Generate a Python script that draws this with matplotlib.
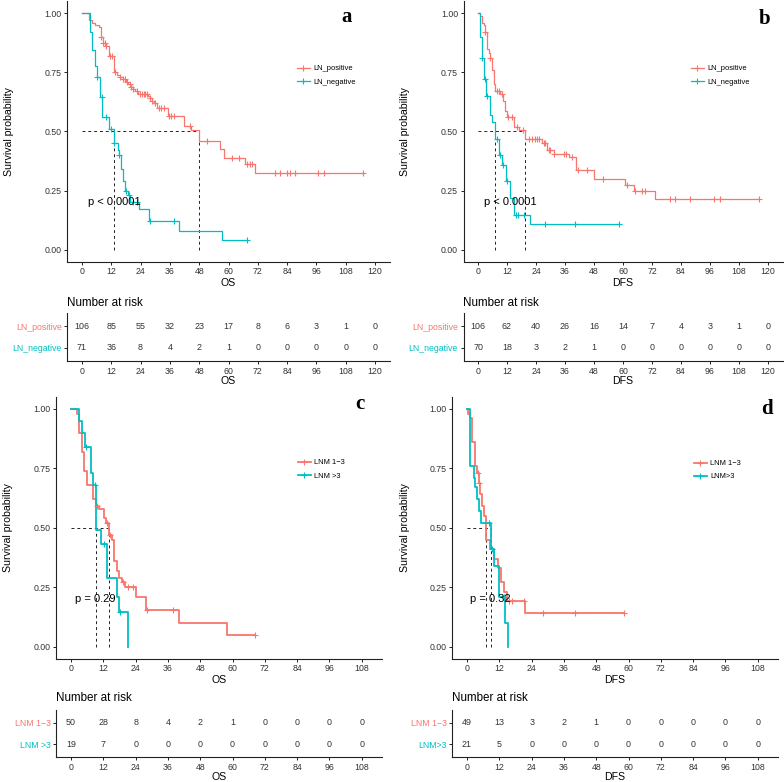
import numpy as np
import matplotlib
matplotlib.use('Agg')
import matplotlib.pyplot as plt
from matplotlib.lines import Line2D

plt.rcParams['font.family'] = ['Liberation Sans', 'DejaVu Sans']

RED = '#F8766D'
CYAN = '#00BFC4'
TXT = '#333333'

# ---------------- Panel a : OS, LN_positive vs LN_negative ----------------
a_pos_t = [2.7, 4.1, 5.5, 6.8, 7.9, 8.6, 10.0, 10.9, 13.2, 14.3, 15.4, 16.8, 18.1, 18.8, 20.2, 21.1, 21.8, 22.8,
           27.0, 28.0, 28.6, 29.7, 30.7, 35.2, 41.6, 44.7, 47.9, 56.6, 58.2, 66.8, 70.9]
a_pos_s = [0.97, 0.96, 0.95, 0.94, 0.90, 0.875, 0.86, 0.82, 0.75, 0.74, 0.73, 0.72, 0.71, 0.70, 0.69, 0.68, 0.67, 0.66,
           0.65, 0.64, 0.63, 0.62, 0.60, 0.565, 0.525, 0.505, 0.46, 0.424, 0.389, 0.364, 0.323]
a_pos_end = 115.2
a_pos_cens = [7.9, 8.6, 9.5, 10.0, 11.6, 12.3, 13.6, 15.4, 16.8, 17.7, 18.4, 19.5, 20.2, 21.1, 22.5, 23.6, 24.5, 25.2,
              25.9, 26.6, 28.0, 28.8, 30.0, 31.4, 32.3, 33.4, 35.5, 36.4, 37.5, 44.3, 51.4, 61.4, 64.1, 67.5, 68.6,
              69.5, 79.1, 81.1, 84.1, 85.2, 87.3, 96.8, 98.9, 115.2]
a_neg_t = [3.1, 4.1, 5.2, 6.1, 7.2, 8.4, 11.0, 13.0, 14.6, 15.2, 16.1, 16.8, 17.7, 18.8, 19.8, 23.2, 27.3, 39.8, 57.3]
a_neg_s = [0.92, 0.845, 0.775, 0.73, 0.645, 0.56, 0.51, 0.45, 0.42, 0.40, 0.34, 0.29, 0.25, 0.23, 0.20, 0.17, 0.12,
           0.08, 0.04]
a_neg_end = 67.5
a_neg_cens = [6.1, 8.2, 10.0, 12.0, 13.2, 15.3, 18.1, 19.1, 21.1, 22.5, 28.0, 37.5, 67.5]
a_risk_pos = [106, 85, 55, 32, 23, 17, 8, 6, 3, 1, 0]
a_risk_neg = [71, 36, 8, 4, 2, 1, 0, 0, 0, 0, 0]

# ---------------- Panel b : DFS, LN_positive vs LN_negative ----------------
b_pos_t = [1.0, 1.7, 2.4, 2.8, 3.7, 4.4, 4.9, 5.8, 6.5, 7.2, 9.2, 10.3, 11.3, 12.0, 14.8, 16.8, 19.6, 26.5, 28.6,
           31.3, 37.5, 40.7, 47.9, 61.0, 64.4, 73.4]
b_pos_s = [0.99, 0.96, 0.95, 0.92, 0.85, 0.83, 0.81, 0.76, 0.70, 0.67, 0.66, 0.63, 0.585, 0.56, 0.52, 0.505, 0.47,
           0.45, 0.42, 0.405, 0.39, 0.335, 0.30, 0.275, 0.25, 0.215]
b_pos_end = 116.1
b_pos_cens = [3.0, 5.1, 7.9, 8.8, 9.9, 12.3, 14.1, 16.1, 18.6, 21.0, 22.3, 23.4, 24.4, 25.1, 27.2, 27.9, 29.2, 29.9,
              31.6, 35.4, 36.4, 38.9, 41.2, 45.1, 51.6, 61.7, 65.1, 67.9, 69.2, 79.6, 81.7, 87.9, 97.5, 100.3, 116.1]
b_neg_t = [0.7, 1.0, 1.5, 2.5, 3.5, 5.1, 5.8, 6.9, 8.6, 9.9, 11.7, 13.4, 14.8, 21.7]
b_neg_s = [0.99, 0.90, 0.81, 0.72, 0.65, 0.57, 0.54, 0.47, 0.40, 0.36, 0.29, 0.22, 0.145, 0.11]
b_neg_end = 58.2
b_neg_cens = [1.7, 2.8, 3.7, 7.9, 8.9, 10.3, 12.0, 15.7, 16.6, 18.9, 27.9, 40.0, 58.2]
b_risk_pos = [106, 62, 40, 26, 16, 14, 7, 4, 3, 1, 0]
b_risk_neg = [70, 18, 3, 2, 1, 0, 0, 0, 0, 0, 0]

# ---------------- Panel c : OS, LNM 1-3 vs LNM >3 ----------------
c_lo_t = [2.1, 3.0, 4.0, 5.0, 6.1, 8.1, 9.3, 10.5, 12.4, 13.0, 14.2, 15.2, 16.1, 17.0, 18.0, 18.8, 20.1, 24.0, 27.7,
          40.1, 58.1]
c_lo_s = [0.98, 0.90, 0.82, 0.74, 0.68, 0.62, 0.59, 0.58, 0.54, 0.52, 0.47, 0.45, 0.36, 0.32, 0.29, 0.27, 0.25, 0.21,
          0.155, 0.10, 0.05]
c_lo_end = 68.4
c_lo_cens = [9.5, 13.4, 14.5, 19.4, 21.3, 22.9, 28.1, 38.0, 68.4]
c_hi_t = [3.1, 4.0, 5.2, 7.3, 8.3, 9.3, 11.1, 13.3, 17.0, 18.0, 21.1]
c_hi_s = [0.95, 0.90, 0.84, 0.73, 0.68, 0.49, 0.43, 0.29, 0.21, 0.145, 0.0]
c_hi_end = 21.1
c_hi_cens = [5.6, 8.9, 12.4, 18.2]
c_risk_lo = [50, 28, 8, 4, 2, 1, 0, 0, 0, 0]
c_risk_hi = [19, 7, 0, 0, 0, 0, 0, 0, 0, 0]

# ---------------- Panel d : DFS, LNM 1-3 vs LNM>3 ----------------
d_lo_t = [0.3, 1.2, 1.9, 2.8, 3.7, 4.3, 5.0, 5.6, 6.2, 7.1, 8.4, 9.9, 11.5, 12.8, 13.6, 14.9, 21.7]
d_lo_s = [0.98, 0.96, 0.86, 0.76, 0.73, 0.69, 0.64, 0.59, 0.55, 0.45, 0.41, 0.37, 0.33, 0.27, 0.23, 0.19, 0.14]
d_lo_end = 58.2
d_lo_cens = [4.1, 4.6, 15.5, 16.7, 21.1, 28.1, 40.0, 58.2]
d_hi_t = [1.2, 2.5, 3.1, 3.7, 4.3, 5.2, 8.9, 9.9, 11.8, 14.0, 15.1]
d_hi_s = [0.76, 0.71, 0.67, 0.62, 0.57, 0.52, 0.41, 0.34, 0.21, 0.10, 0.0]
d_hi_end = 15.1
d_hi_cens = [8.1, 9.1, 13.8]
d_risk_lo = [49, 13, 3, 2, 1, 0, 0, 0, 0, 0]
d_risk_hi = [21, 5, 0, 0, 0, 0, 0, 0, 0, 0]

times_top = list(range(0, 121, 12))
times_bot = list(range(0, 109, 12))

W, H = 784, 782
fig = plt.figure(figsize=(W / 100, H / 100), dpi=100)


def ax_px(x0, y0, x1, y1):
    return fig.add_axes([x0 / W, 1 - y1 / H, (x1 - x0) / W, (y1 - y0) / H])


def ftext(x, y, s, **kw):
    return fig.text(x / W, 1 - y / H, s, **kw)


def style(ax):
    for s in ['top', 'right']:
        ax.spines[s].set_visible(False)
    for s in ['left', 'bottom']:
        ax.spines[s].set_color('#222222')
        ax.spines[s].set_linewidth(0.8)
    ax.tick_params(length=2.5, width=0.7, color='#222222', labelsize=6.3, labelcolor=TXT, pad=1.5)


def km(ax, t, s, end, cens, color, lw):
    t = np.asarray(t, float)
    s = np.asarray(s, float)
    x = np.r_[0, t, end]
    y = np.r_[1, s, s[-1]]
    ax.step(x, y, where='post', color=color, lw=lw, zorder=3)
    c = np.asarray(cens, float)
    idx = np.searchsorted(t, c, side='right')
    ys = np.r_[1, s][idx]
    ax.plot(c, ys, '+', color=color, ms=5, mew=0.8, zorder=4)
    below = np.where(s <= 0.5)[0]
    return t[below[0]] if len(below) else None


def panel(box, xlim, xticks, curves, labels, letter, letter_xy, xlabel, pval, pval_x, lw, leg_xy, ylab_x):
    ax = ax_px(*box)
    style(ax)
    meds = []
    for (t, s, end, cens), col in zip(curves, [RED, CYAN]):
        meds.append(km(ax, t, s, end, cens, col, lw))
    mm = max(meds)
    ax.plot([0, mm], [0.5, 0.5], ls=(0, (3, 3)), color='#222222', lw=0.7, zorder=2)
    for m in meds:
        ax.plot([m, m], [0, 0.5], ls=(0, (3, 3)), color='#222222', lw=0.7, zorder=2)
    ax.set_xlim(*xlim)
    ax.set_ylim(-0.05, 1.05)
    ax.set_xticks(xticks)
    ax.set_yticks([0, 0.25, 0.5, 0.75, 1.0])
    ax.set_yticklabels(['0.00', '0.25', '0.50', '0.75', '1.00'])
    ax.set_xlabel(xlabel, fontsize=7.6, color='black', labelpad=1.5)
    ftext(ylab_x, (box[1] + box[3]) / 2, 'Survival probability', fontsize=7.6, rotation=90,
          ha='center', va='center')
    ax.text(pval_x, 0.2, pval, fontsize=8, color='black', ha='left', va='center', zorder=5)
    handles = [Line2D([], [], color=RED, lw=lw, marker='+', ms=5, mew=0.8),
               Line2D([], [], color=CYAN, lw=lw, marker='+', ms=5, mew=0.8)]
    bx = (leg_xy[0] - box[0]) / (box[2] - box[0])
    by = 1 - (leg_xy[1] - box[1]) / (box[3] - box[1])
    ax.legend(handles, labels, loc='upper left', bbox_to_anchor=(bx, by), frameon=False,
              fontsize=5.4, handlelength=1.7, handletextpad=0.5, labelspacing=0.8, borderaxespad=0,
              borderpad=0)
    ftext(letter_xy[0], letter_xy[1], letter, fontsize=15, fontweight='bold',
          family='Liberation Serif', ha='center', va='center')
    return ax


def table(box, xlim, xticks, risk_red, risk_blue, labels, xlabel, title_y, title_x):
    ax = ax_px(*box)
    style(ax)
    ax.set_xlim(*xlim)
    ax.set_ylim(0.4, 2.6)
    for tt, r in zip(xticks, risk_red):
        ax.text(tt, 2, str(r), ha='center', va='center', fontsize=6.4, color=TXT)
    for tt, r in zip(xticks, risk_blue):
        ax.text(tt, 1, str(r), ha='center', va='center', fontsize=6.4, color=TXT)
    ax.set_xticks(xticks)
    ax.set_yticks([2, 1])
    ax.set_yticklabels(labels)
    for lab, col in zip(ax.get_yticklabels(), [RED, CYAN]):
        lab.set_color(col)
    ax.set_xlabel(xlabel, fontsize=7.6, color='black', labelpad=0.5)
    ftext(title_x, title_y, 'Number at risk', fontsize=8.4, ha='left', va='center')
    return ax


# Panel a
panel((67.3, 1.5, 389.7, 261.5), (-6, 126), times_top,
      [(a_pos_t, a_pos_s, a_pos_end, a_pos_cens), (a_neg_t, a_neg_s, a_neg_end, a_neg_cens)],
      ['LN_positive', 'LN_negative'], 'a', (347, 17), 'OS', 'p < 0.0001', 2.3, 0.9, (297, 65), 9)
table((67.3, 313, 389.7, 361), (-6, 126), times_top, a_risk_pos, a_risk_neg,
      ['LN_positive', 'LN_negative'], 'OS', 303, 67)

# Panel b
panel((463.5, 1.5, 782.5, 261.5), (-6, 126), times_top,
      [(b_pos_t, b_pos_s, b_pos_end, b_pos_cens), (b_neg_t, b_neg_s, b_neg_end, b_neg_cens)],
      ['LN_positive', 'LN_negative'], 'b', (765, 19), 'DFS', 'p < 0.0001', 2.3, 0.9, (691, 65), 405)
table((463.5, 313, 782.5, 361), (-6, 126), times_top, b_risk_pos, b_risk_neg,
      ['LN_positive', 'LN_negative'], 'DFS', 303, 463)

# Panel c
panel((56.2, 397, 382, 658.5), (-5.5, 115.5), times_bot,
      [(c_lo_t, c_lo_s, c_lo_end, c_lo_cens), (c_hi_t, c_hi_s, c_hi_end, c_hi_cens)],
      ['LNM 1\u22123', 'LNM >3'], 'c', (360, 404), 'OS', 'p = 0.29', 1.5, 1.3, (298, 459), 8)
table((56.2, 710, 382, 757), (-5.5, 115.5), times_bot, c_risk_lo, c_risk_hi,
      ['LNM 1\u22123', 'LNM >3'], 'OS', 698, 56)

# Panel d
panel((452.2, 397, 778, 658.5), (-5.5, 115.5), times_bot,
      [(d_lo_t, d_lo_s, d_lo_end, d_lo_cens), (d_hi_t, d_hi_s, d_hi_end, d_hi_cens)],
      ['LNM 1\u22123', 'LNM>3'], 'd', (767, 409), 'DFS', 'p = 0.32', 1.2, 1.3, (694, 460), 405)
table((452.2, 710, 778, 757), (-5.5, 115.5), times_bot, d_risk_lo, d_risk_hi,
      ['LNM 1\u22123', 'LNM>3'], 'DFS', 698, 452)

fig.savefig('out.png', dpi=100)
